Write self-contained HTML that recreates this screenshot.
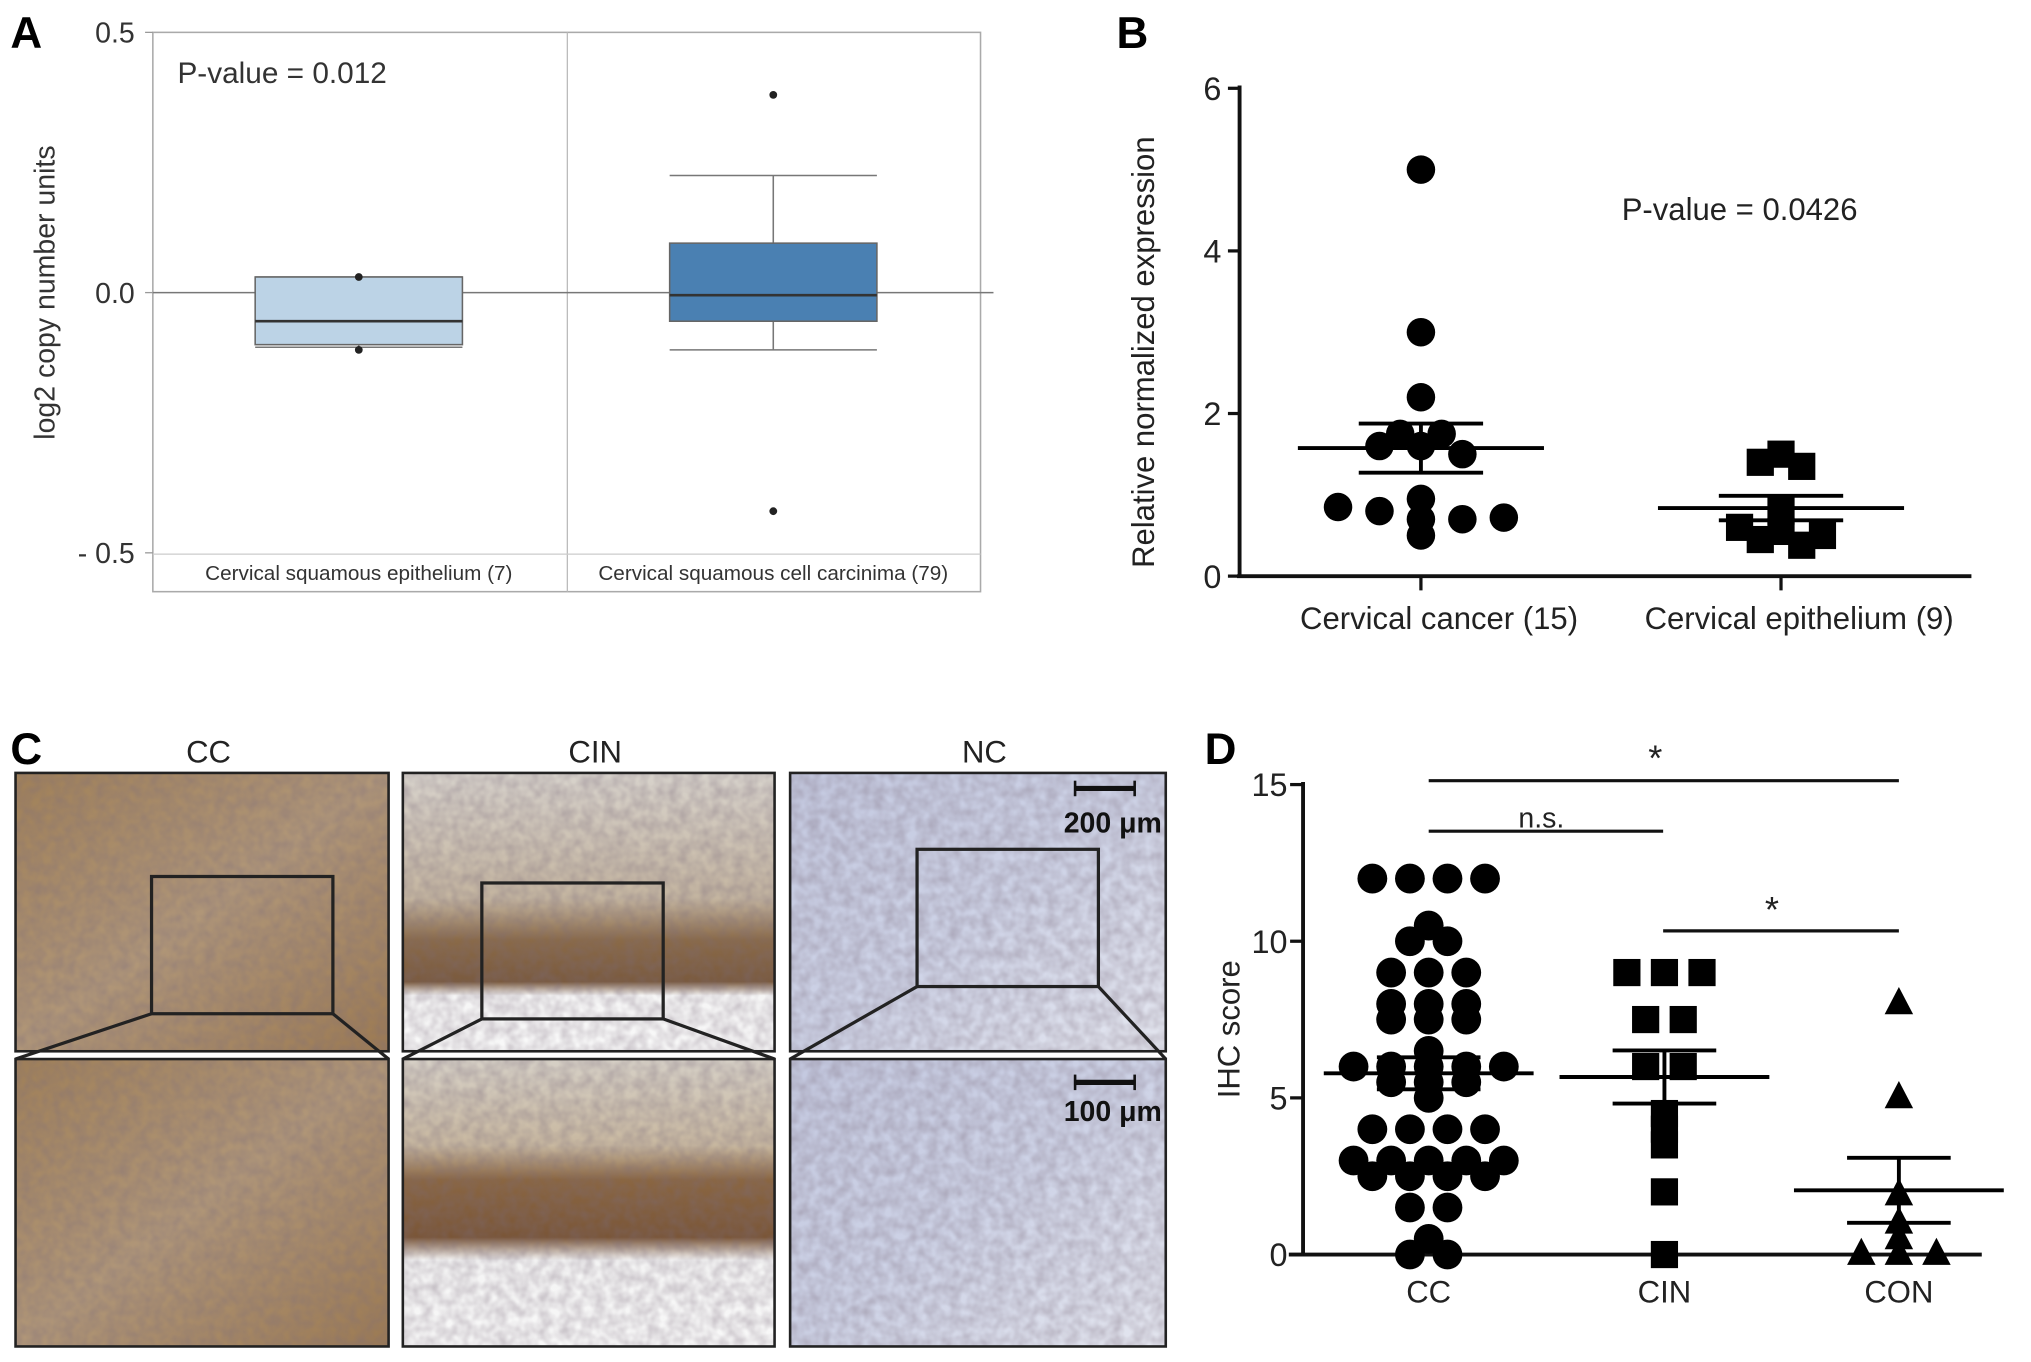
<!DOCTYPE html>
<html><head><meta charset="utf-8"><style>
html,body{margin:0;padding:0;background:#fff}
svg{display:block}
text{font-family:"Liberation Sans",sans-serif}
</style></head><body>
<svg id="fig" width="2031" height="1362" viewBox="0 0 1568 1052" preserveAspectRatio="none" xmlns="http://www.w3.org/2000/svg">
<defs>
<linearGradient id="cc" x1="0" y1="0" x2="1" y2="1"><stop offset="0" stop-color="#a08058"/><stop offset="0.5" stop-color="#b09678"/><stop offset="1" stop-color="#9c7a52"/></linearGradient>
<linearGradient id="cin" x1="0" y1="0" x2="0" y2="1"><stop offset="0" stop-color="#d8d3cc"/><stop offset="0.45" stop-color="#c4b5a0"/><stop offset="0.6" stop-color="#8a6a48"/><stop offset="0.75" stop-color="#7a5a3e"/><stop offset="0.8" stop-color="#f6f6f6"/><stop offset="1" stop-color="#f8f8f8"/></linearGradient>
<linearGradient id="cin2" x1="0" y1="0" x2="0" y2="1"><stop offset="0" stop-color="#d6d0c6"/><stop offset="0.3" stop-color="#c8b8a0"/><stop offset="0.42" stop-color="#8a6642"/><stop offset="0.62" stop-color="#7a5638"/><stop offset="0.7" stop-color="#f4f4f4"/><stop offset="1" stop-color="#f8f8f8"/></linearGradient>
<linearGradient id="nc" x1="0" y1="0" x2="1" y2="1"><stop offset="0" stop-color="#c3c8df"/><stop offset="0.5" stop-color="#cdd2e6"/><stop offset="1" stop-color="#e4e6ef"/></linearGradient>
<filter id="tex" x="0" y="0" width="100%" height="100%"><feTurbulence type="fractalNoise" baseFrequency="0.12" numOctaves="2" seed="3"/><feColorMatrix type="matrix" values="0 0 0 0 0.2  0 0 0 0 0.15  0 0 0 0 0.2  0 0 0 0.9 -0.2"/></filter>
</defs>
<g id="panelA"></g>
<g id="panelB"></g>
<g id="panelC"></g>
<g id="panelD"></g>
</svg>
<script>
// Panel A box stats
const aGroups = ["Cervical squamous epithelium (7)", "Cervical  squamous cell carcinima (79)"];
const aQ1 = [-0.1, -0.055];
const aMedian = [-0.055, -0.005];
const aQ3 = [0.03, 0.095];
const aWhiskLo = [-0.105, -0.11];
const aWhiskHi = [0.03, 0.225];
const aOutliers = [[0.03, -0.11], [0.38, -0.42]];
const aTicks = [0.5, 0.0, -0.5];
const aTickLabels = ["0.5", "0.0", "- 0.5"];
// Panel B
const bGroups = ["Cervical cancer (15)", "Cervical epithelium (9)"];
const bCancer = [5.0, 3.0, 2.2, 1.75, 1.75, 1.6, 1.6, 1.5, 0.95, 0.85, 0.8, 0.7, 0.7, 0.72, 0.5];
const bEpi = [1.5, 1.4, 1.35, 0.8, 0.6, 0.55, 0.5, 0.45, 0.38];
const bTicks = [0, 2, 4, 6];
// Panel D
const dGroups = ["CC", "CIN", "CON"];
const dCC = [12,12,12,12,10.5,10,10,9,9,9,8,8,8,7.5,7.5,7.5,6.5,6,6,6,6,6,5.5,5.5,5.5,5,4,4,4,4,3,3,3,3,3,2.5,2.5,2.5,2.5,1.5,1.5,0.5,0,0];
const dCIN = [9,9,9,7.5,7.5,6,6,4.5,4,3.5,2,0];
const dCON = [8,5,1.9,1.0,0.5,0,0,0];
const dTicks = [0, 5, 10, 15];

const NS = "http://www.w3.org/2000/svg";
function mk(parent, tag, attrs, txt){const e=document.createElementNS(NS,tag);for(const k in attrs)e.setAttribute(k,attrs[k]);if(txt!==undefined)e.textContent=txt;parent.appendChild(e);return e;}
function mean(a){return a.reduce((s,v)=>s+v,0)/a.length;}
function sem(a){const m=mean(a);const sd=Math.sqrt(a.reduce((s,v)=>s+(v-m)*(v-m),0)/(a.length-1));return sd/Math.sqrt(a.length);}
function swarm(vals, step){
  const cnt={},idx={};vals.forEach(v=>cnt[v]=(cnt[v]||0)+1);
  return vals.map(v=>{idx[v]=(idx[v]||0);const i=idx[v]++;return (i-(cnt[v]-1)/2)*step;});
}

// ---------- Panel A ----------
(function(){
  const g=document.getElementById('panelA');
  const y=v=>226-v*402;
  let t=mk(g,'text',{x:8,y:37,'font-size':34,'font-weight':'bold'},'A');
  
  let r=mk(g,'rect',{x:118,y:25,width:639,height:432,fill:'none',stroke:'#aaa','stroke-width':1.2});
  
  mk(g,'line',{x1:438,y1:25,x2:438,y2:457,stroke:'#bbb','stroke-width':1});
  let z=mk(g,'line',{x1:118,y1:y(0),x2:767,y2:y(0),stroke:'#777','stroke-width':1.2});
  
  mk(g,'line',{x1:118,y1:428,x2:757,y2:428,stroke:'#ccc','stroke-width':1});
  aTicks.forEach((v,i)=>{
    const tt=mk(g,'text',{x:104,y:y(v)+8,'font-size':22,'text-anchor':'end',fill:'#333'},aTickLabels[i]);
    
    mk(g,'line',{x1:112,y1:y(v),x2:118,y2:y(v),stroke:'#999'});
  });
  const yt=mk(g,'text',{x:42,y:226,'font-size':22,'text-anchor':'middle',fill:'#333',transform:'rotate(-90 42 226)'},'log2 copy number units');
  
  const pv=mk(g,'text',{x:137,y:64,'font-size':23,fill:'#333'},'P-value = 0.012');
  
  const cx=[277,597], fills=['#bcd3e6','#4a80b2'];
  aGroups.forEach((name,i)=>{
    const w1=mk(g,'line',{x1:cx[i],y1:y(aWhiskHi[i]),x2:cx[i],y2:y(aWhiskLo[i]),stroke:'#777','stroke-width':1.2});
    
    [aWhiskHi[i],aWhiskLo[i]].forEach(v=>mk(g,'line',{x1:cx[i]-80,y1:y(v),x2:cx[i]+80,y2:y(v),stroke:'#777','stroke-width':1.2}));
    const b=mk(g,'rect',{x:cx[i]-80,y:y(aQ3[i]),width:160,height:y(aQ1[i])-y(aQ3[i]),fill:fills[i],stroke:'#666','stroke-width':1.2});
    
    const m=mk(g,'line',{x1:cx[i]-80,y1:y(aMedian[i]),x2:cx[i]+80,y2:y(aMedian[i]),stroke:'#333','stroke-width':2});
    
    aOutliers[i].forEach(v=>{const c=mk(g,'circle',{cx:cx[i],cy:y(v),r:3,fill:'#222'});
      });
    const l=mk(g,'text',{x:cx[i],y:448,'font-size':16,'text-anchor':'middle',fill:'#333'},name);
    
  });
})();

// ---------- Panel B ----------
(function(){
  const g=document.getElementById('panelB');
  const y=v=>445-v*62.8;
  let t=mk(g,'text',{x:862,y:37,'font-size':34,'font-weight':'bold'},'B');
  
  const ya=mk(g,'line',{x1:957,y1:66,x2:957,y2:446,stroke:'#111','stroke-width':3});
  
  const xa=mk(g,'line',{x1:955,y1:445,x2:1522,y2:445,stroke:'#111','stroke-width':3});
  
  bTicks.forEach(v=>{mk(g,'line',{x1:948,y1:y(v),x2:957,y2:y(v),stroke:'#111','stroke-width':2.5});
    const tt=mk(g,'text',{x:943,y:y(v)+9,'font-size':25,'text-anchor':'end',fill:'#222'},String(v));
    });
  const yt=mk(g,'text',{x:891,y:272,'font-size':24,'text-anchor':'middle',fill:'#222',transform:'rotate(-90 891 272)'},'Relative normalized expression');
  
  const pv=mk(g,'text',{x:1252,y:170,'font-size':24,fill:'#222'},'P-value = 0.0426');
  
  const cx=[1097,1375];
  [bCancer,bEpi].forEach((vals,i)=>{
    mk(g,'line',{x1:cx[i],y1:445,x2:cx[i],y2:456,stroke:'#111','stroke-width':2.5});
    const l=mk(g,'text',{x:cx[i]+14,y:486,'font-size':24,'text-anchor':'middle',fill:'#222'},bGroups[i]);
    
    const rv=vals.map(v=>Math.round(v*5)/5);
    const off=swarm(rv,32);
    vals.forEach((v,k)=>{
      let e;
      if(i===0) e=mk(g,'circle',{cx:cx[i]+off[k],cy:y(v),r:11,fill:'#000'});
      else e=mk(g,'rect',{x:cx[i]+off[k]-10.5,y:y(v)-10.5,width:21,height:21,fill:'#000'});
      
      
    });
    const m=mean(vals),s=sem(vals);
    const ml=mk(g,'line',{x1:cx[i]-95,y1:y(m),x2:cx[i]+95,y2:y(m),stroke:'#000','stroke-width':3});
    
    mk(g,'line',{x1:cx[i],y1:y(m+s),x2:cx[i],y2:y(m-s),stroke:'#000','stroke-width':3});
    [m+s,m-s].forEach(v=>{const el=mk(g,'line',{x1:cx[i]-48,y1:y(v),x2:cx[i]+48,y2:y(v),stroke:'#000','stroke-width':3});
      });
  });
})();

// ---------- Panel C ----------
(function(){
  const g=document.getElementById('panelC');
  let t=mk(g,'text',{x:8,y:590,'font-size':34,'font-weight':'bold'},'C');
  
  const cols=[[12,300,'CC','url(#cc)','url(#cc)'],[311,598,'CIN','url(#cin)','url(#cin2)'],[610,900,'NC','url(#nc)','url(#nc)']];
  const boxes=[[117,677,257,783],[372,682,512,787],[708,656,848,762]];
  cols.forEach((c,i)=>{
    const l=mk(g,'text',{x:(c[0]+c[1])/2+5,y:589,'font-size':24,'text-anchor':'middle',fill:'#222'},c[2]);
    
    const a=mk(g,'rect',{x:c[0],y:597,width:c[1]-c[0],height:215,fill:c[3]});
    
    mk(g,'rect',{x:c[0],y:597,width:c[1]-c[0],height:215,filter:'url(#tex)',opacity:0.6});
    mk(g,'rect',{x:c[0],y:597,width:c[1]-c[0],height:215,fill:'none',stroke:'#222','stroke-width':2});
    const b=mk(g,'rect',{x:c[0],y:818,width:c[1]-c[0],height:222,fill:c[4]});
    
    mk(g,'rect',{x:c[0],y:818,width:c[1]-c[0],height:222,filter:'url(#tex)',opacity:0.6});
    mk(g,'rect',{x:c[0],y:818,width:c[1]-c[0],height:222,fill:'none',stroke:'#222','stroke-width':2});
    const bx=boxes[i];
    const r=mk(g,'rect',{x:bx[0],y:bx[1],width:bx[2]-bx[0],height:bx[3]-bx[1],fill:'none',stroke:'#222','stroke-width':2.5});
    
    mk(g,'line',{x1:bx[0],y1:bx[3],x2:c[0],y2:818,stroke:'#222','stroke-width':2.5});
    mk(g,'line',{x1:bx[2],y1:bx[3],x2:c[1],y2:818,stroke:'#222','stroke-width':2.5});
  });
  mk(g,'line',{x1:830,y1:609,x2:876,y2:609,stroke:'#111','stroke-width':4});
  mk(g,'line',{x1:830,y1:603,x2:830,y2:615,stroke:'#111','stroke-width':2});
  mk(g,'line',{x1:876,y1:603,x2:876,y2:615,stroke:'#111','stroke-width':2});
  let s1=mk(g,'text',{x:897,y:643,'font-size':22,'font-weight':'bold','text-anchor':'end',fill:'#111'},'200 μm');
  
  mk(g,'line',{x1:830,y1:836,x2:876,y2:836,stroke:'#111','stroke-width':4});
  mk(g,'line',{x1:830,y1:830,x2:830,y2:842,stroke:'#111','stroke-width':2});
  mk(g,'line',{x1:876,y1:830,x2:876,y2:842,stroke:'#111','stroke-width':2});
  let s2=mk(g,'text',{x:897,y:866,'font-size':22,'font-weight':'bold','text-anchor':'end',fill:'#111'},'100 μm');
  
})();

// ---------- Panel D ----------
(function(){
  const g=document.getElementById('panelD');
  const y=v=>969-v*24.2;
  let t=mk(g,'text',{x:930,y:590,'font-size':34,'font-weight':'bold'},'D');
  
  const ya=mk(g,'line',{x1:1006,y1:604,x2:1006,y2:970,stroke:'#111','stroke-width':3});
  
  const xa=mk(g,'line',{x1:995,y1:969,x2:1530,y2:969,stroke:'#111','stroke-width':3});
  
  dTicks.forEach(v=>{mk(g,'line',{x1:996,y1:y(v),x2:1006,y2:y(v),stroke:'#111','stroke-width':2.5});
    const tt=mk(g,'text',{x:994,y:y(v)+9,'font-size':25,'text-anchor':'end',fill:'#222'},String(v));
    });
  const yt=mk(g,'text',{x:957,y:795,'font-size':24,'text-anchor':'middle',fill:'#222',transform:'rotate(-90 957 795)'},'IHC score');
  
  const cx=[1103,1285,1466];
  const sig=[[1103,1466,603,'*',1278,595],[1103,1284,642,'n.s.',1190,639],[1284,1466,719,'*',1368,712]];
  sig.forEach(s=>{const l=mk(g,'line',{x1:s[0],y1:s[2],x2:s[1],y2:s[2],stroke:'#111','stroke-width':2.5});
    
    const tx=mk(g,'text',{x:s[4],y:s[5],'font-size':s[3]==='*'?28:22,'text-anchor':'middle',fill:'#222'},s[3]);
    });
  [dCC,dCIN,dCON].forEach((vals,i)=>{
    const l=mk(g,'text',{x:cx[i],y:1006,'font-size':24,'text-anchor':'middle',fill:'#222'},dGroups[i]);
    
    const off=swarm(vals,29);
    vals.forEach((v,k)=>{
      const px=cx[i]+off[k],py=y(v);let e;
      if(i===0) e=mk(g,'circle',{cx:px,cy:py,r:11.5,fill:'#000'});
      else if(i===1) e=mk(g,'rect',{x:px-10.5,y:py-10.5,width:21,height:21,fill:'#000'});
      else e=mk(g,'polygon',{points:`${px},${py-13} ${px-11},${py+8} ${px+11},${py+8}`,fill:'#000'});
      
      
    });
    const m=mean(vals),s=sem(vals);
    const ml=mk(g,'line',{x1:cx[i]-81,y1:y(m),x2:cx[i]+81,y2:y(m),stroke:'#000','stroke-width':3});
    
    mk(g,'line',{x1:cx[i],y1:y(m+s),x2:cx[i],y2:y(m-s),stroke:'#000','stroke-width':3});
    [m+s,m-s].forEach(v=>{const el=mk(g,'line',{x1:cx[i]-40,y1:y(v),x2:cx[i]+40,y2:y(v),stroke:'#000','stroke-width':3});
      });
  });
})();
</script>
</body></html>
